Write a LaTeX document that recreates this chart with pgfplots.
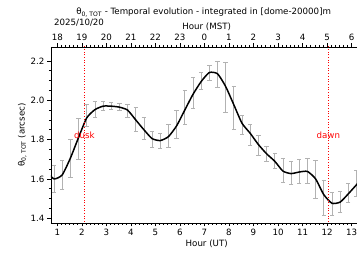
\documentclass[border=0pt]{standalone}
\usepackage{pgfplots}
\usepackage{pgfplotstable}
\pgfplotsset{compat=1.18}
\usepackage{fontspec}
\setmainfont{DejaVu Sans}

\pgfplotstableread{
x      y      ep     em
0.532  1.640  0.070  0.070
0.865  1.600  0.068  0.066
1.198  1.620  0.073  0.072
1.532  1.705  0.097  0.098
1.865  1.810  0.097  0.113
2.198  1.910  0.070  0.044
2.532  1.952  0.041  0.038
2.865  1.970  0.023  0.022
3.198  1.970  0.020  0.018
3.532  1.965  0.021  0.017
3.865  1.950  0.028  0.038
4.198  1.900  0.063  0.056
4.532  1.850  0.062  0.050
4.865  1.805  0.038  0.043
5.198  1.795  0.035  0.038
5.532  1.815  0.061  0.057
5.865  1.870  0.080  0.065
6.198  1.950  0.099  0.075
6.532  2.030  0.085  0.073
6.865  2.095  0.046  0.039
7.198  2.141  0.039  0.038
7.532  2.135  0.065  0.069
7.865  2.070  0.124  0.130
8.198  1.977  0.093  0.123
8.532  1.883  0.039  0.056
8.865  1.832  0.046  0.059
9.198  1.775  0.049  0.053
9.532  1.728  0.036  0.038
9.865  1.690  0.041  0.036
10.198 1.640  0.065  0.057
10.532 1.627  0.063  0.054
10.865 1.635  0.065  0.060
11.198 1.638  0.065  0.060
11.532 1.600  0.093  0.098
11.865 1.520  0.075  0.103
12.198 1.476  0.054  0.059
12.532 1.482  0.053  0.052
12.865 1.524  0.051  0.044
13.198 1.570  0.076  0.060
13.532 1.615  0.070  0.060
}\data

\begin{document}
\fontsize{8.7}{10}\selectfont
\begin{tikzpicture}
\pgfplotsset{
  base/.style={
    width=311.5bp, height=176bp, scale only axis,
    xmin=0.743, xmax=13.44, ymin=1.376, ymax=2.271,
    tick align=outside,
    major tick length=3.5bp, minor tick length=2bp,
    every tick/.style={black, line width=0.6pt},
    ticklabel style={font=\fontsize{8.7}{10}\selectfont},
    label style={font=\fontsize{8.7}{10}\selectfont},
    /pgf/number format/assume math mode=true,
    axis line style={line width=0.7pt},
  }
}
\begin{axis}[base, name=ax,
    axis x line*=bottom, axis y line*=left,
    xtick={1,...,13}, minor x tick num=5,
    ytick={1.4,1.6,...,2.21}, minor y tick num=3,
    yticklabel style={/pgf/number format/.cd, fixed, fixed zerofill, precision=1},
    xlabel={Hour (UT)},
    ylabel={θ\textsubscript{0, TOT} (arcsec)},
    xlabel style={yshift=2bp},
    ylabel style={yshift=-2bp},
  ]
  \addplot[gray!60, line width=0.7pt, mark=none, draw=none,
    error bars/.cd, y dir=both, y explicit,
    error bar style={gray!60, line width=0.7pt},
    error mark options={gray!60, line width=0.7pt, mark size=2.2bp, rotate=90}]
    table[x=x, y=y, y error plus=ep, y error minus=em] {\data};
  \addplot[black, line width=1.5pt, smooth, tension=0.35, mark=none] table[x=x, y=y] {\data};
  \addplot[red, dotted, line width=0.7pt] coordinates {(2.1,1.3) (2.1,2.4)};
  \addplot[red, dotted, line width=0.7pt] coordinates {(12.05,1.3) (12.05,2.4)};
  \node[red, font=\fontsize{8.7}{10}\selectfont] at (axis cs:2.1,1.82) {dusk};
  \node[red, font=\fontsize{8.7}{10}\selectfont] at (axis cs:12.05,1.82) {dawn};
\end{axis}
\begin{axis}[base,
    axis x line*=top, axis y line=none,
    xtick={1,...,13}, minor x tick num=5,
    xticklabels={18,19,20,21,22,23,0,1,2,3,4,5,6},
    xlabel={Hour (MST)},
    xlabel style={yshift=-3bp},
  ]
  \addplot[draw=none] coordinates {(1,1.5)};
\end{axis}
\node[anchor=base west, font=\fontsize{8.7}{10}\selectfont] at ([shift={(0bp,21bp)}]ax.north west) {2025/10/20};
\node[anchor=base, font=\fontsize{8.7}{10}\selectfont] at ([shift={(-3bp,32bp)}]ax.north) {θ\textsubscript{0, TOT} - Temporal evolution - integrated in [dome-20000]m};
\pgfresetboundingbox
\useasboundingbox ([shift={(-51bp,-36bp)}]ax.south west) rectangle ([shift={(-5.4bp,47bp)}]ax.north east);
\end{tikzpicture}
\end{document}
